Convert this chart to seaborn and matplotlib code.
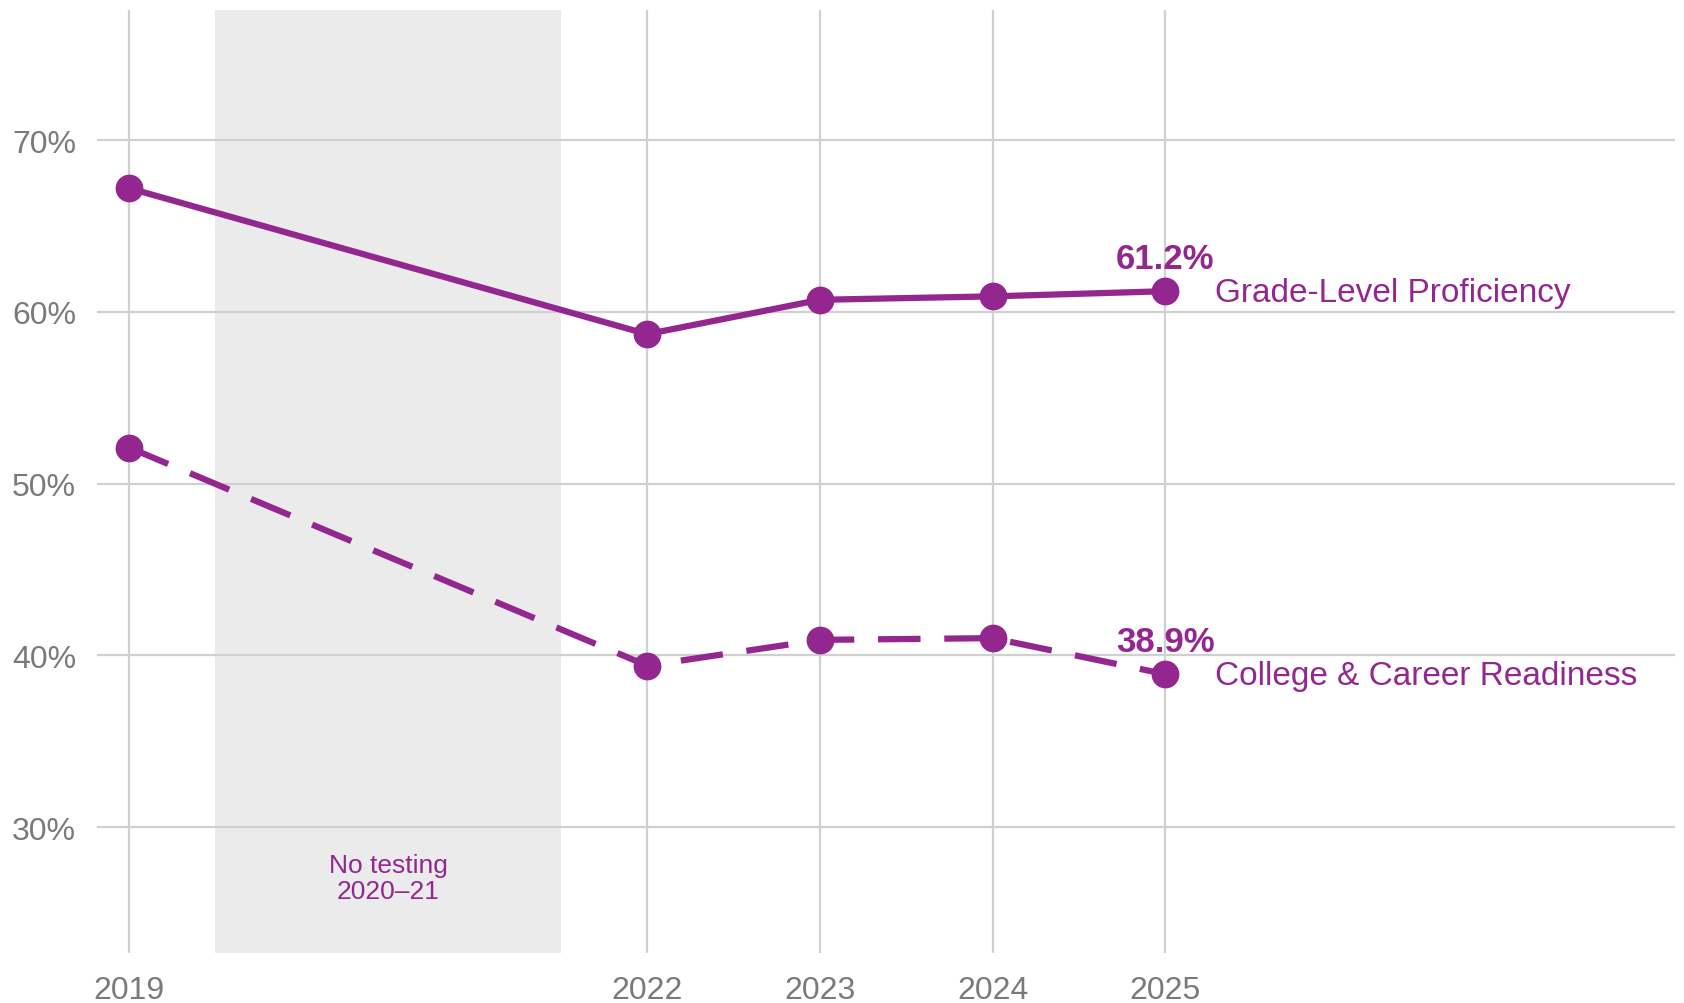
import matplotlib
matplotlib.use("Agg")
import matplotlib.pyplot as plt
import seaborn as sns
import pandas as pd

years = [2019, 2022, 2023, 2024, 2025]
proficiency = [67.2, 58.7, 60.7, 60.9, 61.2]
readiness = [52.1, 39.4, 40.9, 41.0, 38.9]
series_names = ["Grade-Level Proficiency", "College & Career Readiness"]
y_ticks = [30, 40, 50, 60, 70]
gap_years = (2019.5, 2021.5)
gap_label = "No testing\n2020\u201321"

PURPLE = "#93278F"
GRID = "#d0d0d0"
TICK = "#7a7a7a"

sns.set_theme(style="white")
plt.rcParams["font.family"] = ["Liberation Sans", "DejaVu Sans"]

df = pd.DataFrame({
    "year": years * 2,
    "value": proficiency + readiness,
    "series": [series_names[0]] * len(years) + [series_names[1]] * len(years),
})

fig = plt.figure(figsize=(16.84, 10.04), dpi=100)
ax = fig.add_axes([0.0576, 0.050, 0.9371, 0.939])

ax.axvspan(*gap_years, color="#ebebeb", zorder=0, lw=0)

sns.lineplot(
    data=df, x="year", y="value", style="series", ax=ax,
    color=PURPLE, linewidth=4.5, marker="o", markersize=20,
    markeredgewidth=0, dashes={series_names[0]: "", series_names[1]: (6.8, 3.8)},
    legend=False, zorder=3,
)

ax.set_xlim(2018.815, 2027.95)
ax.set_ylim(22.68, 77.57)
ax.set_xticks(years)
ax.set_xticklabels([str(y) for y in years])
ax.set_yticks(y_ticks)
ax.set_yticklabels([f"{t}%" for t in y_ticks])
ax.tick_params(axis="both", length=0, labelsize=23, labelcolor=TICK)
ax.tick_params(axis="x", pad=16)
ax.tick_params(axis="y", pad=15)
ax.set_xlabel("")
ax.set_ylabel("")
ax.grid(True, color=GRID, linewidth=1.6, zorder=1)
ax.set_axisbelow(True)
for s in ax.spines.values():
    s.set_visible(False)

# End-of-line value and series labels
for vals, name in zip([proficiency, readiness], series_names):
    last = vals[-1]
    ax.annotate(f"{last:.1f}%", (years[-1], last), xytext=(0, 12),
                textcoords="offset points", ha="center", va="bottom",
                fontsize=25, fontweight="bold", color=PURPLE)
    ax.annotate(name, (years[-1], last), xytext=(36, -1),
                textcoords="offset points", ha="left", va="center",
                fontsize=24, color=PURPLE)

ax.text(sum(gap_years) / 2, 27.05, gap_label, ha="center", va="center",
        fontsize=19, color=PURPLE, linespacing=1.1)

fig.savefig("out.png", dpi=100)
